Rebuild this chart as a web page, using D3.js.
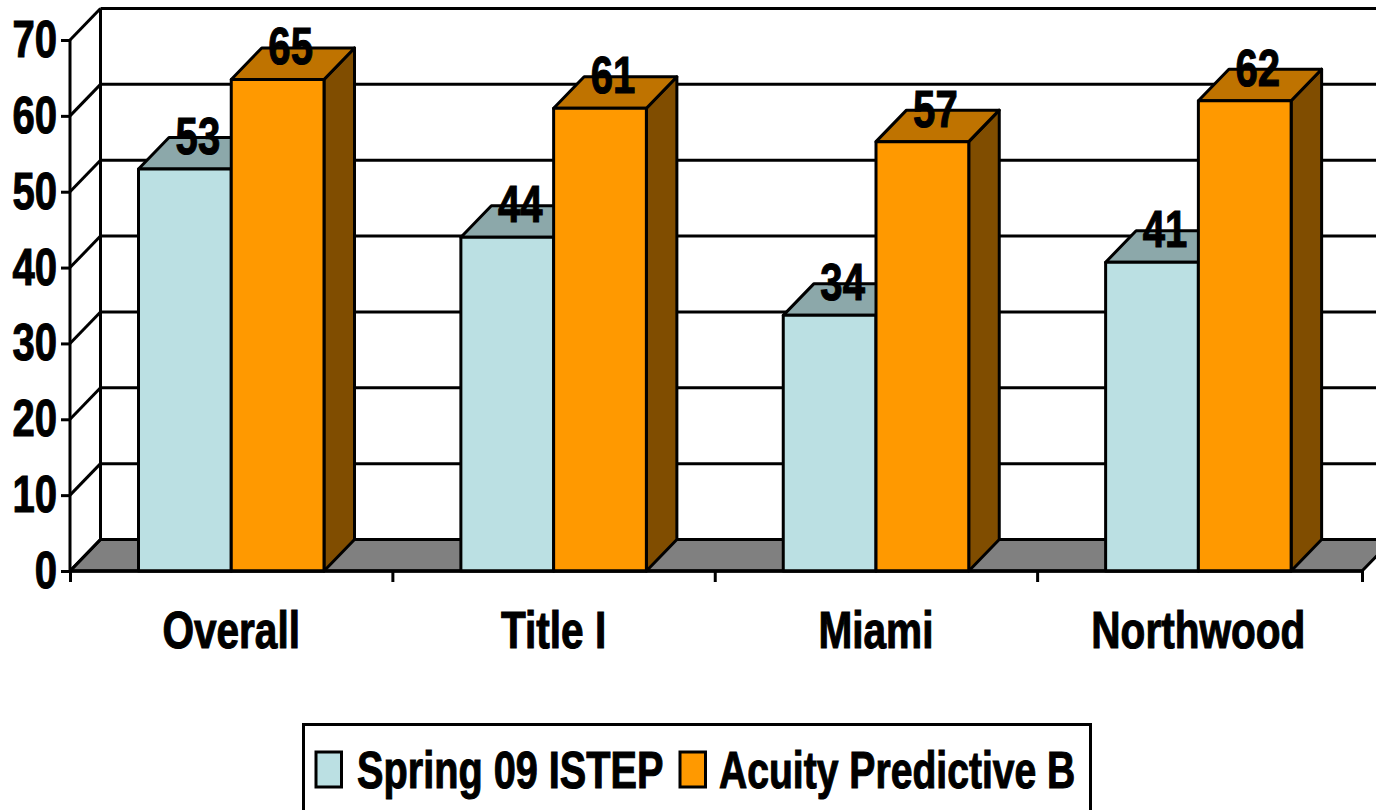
<!DOCTYPE html>
<html><head><meta charset="utf-8">
<script src="https://cdnjs.cloudflare.com/ajax/libs/d3/7.8.5/d3.min.js"></script>
<style>html,body{margin:0;padding:0;background:#fff;overflow:hidden}svg{display:block}
text{font-family:"Liberation Sans",Arial,sans-serif;font-weight:700;font-size:52px;fill:#000;stroke:#000;stroke-width:1.1px}</style>
</head><body><svg id="c" width="1376" height="810"></svg>
<script>
const categories=["Overall","Title I","Miami","Northwood"];
const seriesNames=["Spring 09 ISTEP","Acuity Predictive B"];
const spring09=[53,44,33.7,40.7];
const acuityB=[64.8,61,56.6,62];
const yTicks=[0,10,20,30,40,50,60,70];
const palette={front:["#BBE0E3","#FF9900"],top:["#8CA8AA","#BF7300"],side:["#8CA8AA","#804D00"]};

const L=70,R=1362,Y0=571,Y70=40,DX=30.5,DY=31.5,SX=.77,LW=3;
const svg=d3.select("#c");
const y=d3.scaleLinear().domain([0,70]).range([Y0,Y70]);
const x0=d3.scaleBand().domain(categories).range([L,1359.5]);
const x1=d3.scaleBand().domain(seriesNames).range([68.5,254]);
const poly=p=>p.map(q=>q.join(",")).join(" ");
const line=(g,a,b,c,d,w=LW)=>g.append("line").attr("x1",a).attr("y1",b).attr("x2",c).attr("y2",d).attr("stroke","#000").attr("stroke-width",w);
const label=(g,t,px,py,anchor,sx=SX)=>g.append("text").attr("transform",`translate(${px},${py}) scale(${sx},1)`).attr("text-anchor",anchor).text(t);

// walls and floor
const wall=svg.append("g");
wall.append("polygon").attr("points",poly([[L,Y0],[L+DX,Y0-DY],[R+DX,Y0-DY],[R,Y0]])).attr("fill","#808080").attr("stroke","#000").attr("stroke-width",LW).attr("stroke-linejoin","miter");
yTicks.forEach(v=>{
  line(wall,L,y(v),L+DX,y(v)-DY);
  line(wall,L+DX,y(v)-DY,R+DX,y(v)-DY);
});
line(wall,L+DX,y(0)-DY,L+DX,y(70)-DY);

// axes
const yAxis=svg.append("g").attr("transform",`translate(${L},0)`).call(d3.axisLeft(y).tickValues(yTicks).tickSize(9).tickFormat(""));
const xAxis=svg.append("g").attr("transform",`translate(0,${Y0})`).call(d3.axisBottom(d3.scaleIdentity()).tickValues([...categories.map(c=>x0(c)),R]).tickSize(11).tickFormat(""));
[yAxis,xAxis].forEach(a=>{a.selectAll("path,line").attr("stroke","#000").attr("stroke-width",LW);});
yAxis.select(".domain").attr("d",`M0,${y(70)}V${y(0)}`);
xAxis.select(".domain").attr("d",`M${L},0H${R}`);
yTicks.forEach(v=>label(svg,v,57,y(v)+17,"end"));
categories.forEach(c=>label(svg,c,x0(c)+x0.bandwidth()/2,648,"middle",.78));

// bars
const bars=svg.append("g").attr("stroke","#000").attr("stroke-width",LW).attr("stroke-linejoin","round");
const series=[spring09,acuityB];
categories.forEach((c,i)=>{
  seriesNames.forEach((s,k)=>{
    const v=series[k][i],a=x0(c)+x1(s),b=a+x1.bandwidth(),t=y(v),z=y(0);
    bars.append("polygon").attr("points",poly([[b,t],[b+DX,t-DY],[b+DX,z-DY],[b,z]])).attr("fill",palette.side[k]);
    bars.append("polygon").attr("points",poly([[a,t],[a+DX,t-DY],[b+DX,t-DY],[b,t]])).attr("fill",palette.top[k]);
    bars.append("rect").attr("x",a).attr("y",t).attr("width",x1.bandwidth()).attr("height",z-t).attr("fill",palette.front[k]);
  });
});
line(svg,L,Y0,R,Y0);
// value labels
categories.forEach((c,i)=>seriesNames.forEach((s,k)=>{
  label(svg,d3.format(".0f")(series[k][i]),x0(c)+x1(s)+x1.bandwidth()/2+13,y(series[k][i])-15,"middle");
}));

// legend
const lg=svg.append("g");
lg.append("rect").attr("x",303.5).attr("y",724.5).attr("width",787).attr("height",110).attr("fill","#fff").attr("stroke","#000").attr("stroke-width",LW);
const legendX=[[316,357,.763],[680,719,.752]];
seriesNames.forEach((s,k)=>{
  lg.append("rect").attr("x",legendX[k][0]).attr("y",752).attr("width",25.5).attr("height",35).attr("fill",palette.front[k]).attr("stroke","#000").attr("stroke-width",LW);
  label(lg,s,legendX[k][1],788,"start",legendX[k][2]);
});
</script></body></html>
